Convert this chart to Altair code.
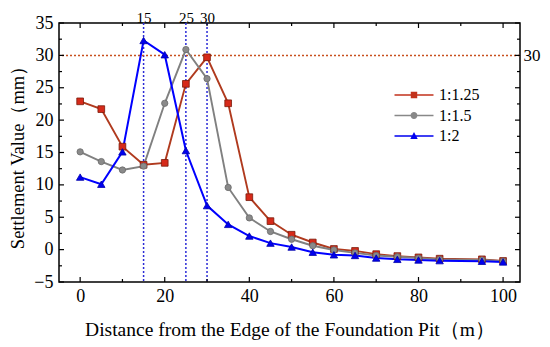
import altair as alt
import pandas as pd

# ---- data ----
dist = [0, 5, 10, 15, 20, 25, 30, 35, 40, 45, 50, 55, 60, 65, 70, 75, 80, 85, 95, 100]
s_125 = [22.9, 21.7, 15.9, 13.1, 13.4, 25.6, 29.7, 22.6, 8.1, 4.4, 2.3, 1.1, 0.1, -0.2, -0.7, -1.0, -1.2, -1.4, -1.5, -1.75]
s_15 = [15.1, 13.6, 12.3, 12.9, 22.6, 30.9, 26.4, 9.6, 4.9, 2.8, 1.6, 0.6, -0.05, -0.5, -0.9, -1.1, -1.3, -1.5, -1.6, -1.8]
s_2 = [11.2, 10.1, 15.1, 32.3, 30.1, 15.3, 6.8, 3.9, 2.1, 1.0, 0.4, -0.4, -0.8, -0.9, -1.3, -1.5, -1.6, -1.7, -1.8, -1.9]
names = ["1:1.25", "1:1.5", "1:2"]

x_major = [0, 20, 40, 60, 80, 100]
x_minor = [10, 30, 50, 70, 90]
y_major = [-5, 0, 5, 10, 15, 20, 25, 30, 35]
y_minor = [-2.5, 2.5, 7.5, 12.5, 17.5, 22.5, 27.5, 32.5]
v_lines = [15, 25, 30]
h_lines = [30]

df = pd.DataFrame({
    "dist": dist * 3,
    "value": s_125 + s_15 + s_2,
    "series": [names[0]] * len(dist) + [names[1]] * len(dist) + [names[2]] * len(dist),
})

FONT = "Liberation Serif"
W, H = 461, 259
xs = alt.Scale(domain=[-5, 104], nice=False, zero=False)
ys = alt.Scale(domain=[-5, 35], nice=False, zero=False)

styles = {
    "1:1.25": dict(line="#b03a1e", fill="#d62a1a", stroke="#7a1a0a", shape="square", size=45, width=1.9),
    "1:1.5": dict(line="#808080", fill="#8a8a8a", stroke="#6a6a6a", shape="circle", size=40, width=1.9),
    "1:2": dict(line="#0000ff", fill="#0000ee", stroke="#0000aa", shape="triangle-up", size=55, width=2.0),
}

layers = []

# reference dashed lines
vdf = pd.DataFrame({"v": v_lines})
layers.append(alt.Chart(vdf).mark_rule(color="#2b2bd6", strokeDash=[2, 2], strokeWidth=1.5).encode(
    x=alt.X("v:Q", scale=xs, axis=alt.Axis(orient="top", values=v_lines, ticks=False, tickSize=0, domain=False,
                                              grid=False, labelFont=FONT, labelFontSize=15, labelPadding=1,
                                              labelBaseline="alphabetic",
                                              labelColor="black", title=None))
))
hdf = pd.DataFrame({"h": h_lines})
layers.append(alt.Chart(hdf).mark_rule(color="#c8501e", strokeDash=[2, 2], strokeWidth=1.5).encode(
    y=alt.Y("h:Q", scale=ys, axis=alt.Axis(orient="right", values=h_lines, ticks=False, tickSize=0, domain=False,
                                              grid=False, labelFont=FONT, labelFontSize=17, labelPadding=3,
                                              labelColor="black", title=None))
))

# series
first = True
for nm in names:
    st = styles[nm]
    b = alt.Chart(df).transform_filter(alt.datum.series == nm)
    if first:
        xax = alt.Axis(orient="bottom", values=x_major, ticks=False, tickSize=0, domain=False, grid=False,
                       labelFont=FONT, labelFontSize=18, labelPadding=5, labelColor="black",
                       title="Distance from the Edge of the Foundation Pit（m）", titleFont=FONT,
                       titleFontSize=19.5, titleFontWeight="normal", titlePadding=15, titleColor="black")
        yax = alt.Axis(orient="left", values=y_major, ticks=False, tickSize=0, domain=False, grid=False,
                       labelFont=FONT, labelFontSize=18, labelPadding=6, labelColor="black",
                       title="Settlement Value（mm）", titleFont=FONT, titleFontSize=18.5,
                       titleFontWeight="normal", titlePadding=6, titleColor="black")
        first = False
    else:
        xax = None
        yax = None
    layers.append(b.mark_line(color=st["line"], strokeWidth=st["width"]).encode(
        x=alt.X("dist:Q", scale=xs, axis=xax), y=alt.Y("value:Q", scale=ys, axis=yax)))

for nm in names:
    st = styles[nm]
    b = alt.Chart(df).transform_filter(alt.datum.series == nm)
    layers.append(b.mark_point(shape=st["shape"], filled=True, fill=st["fill"], stroke=st["stroke"],
                               strokeWidth=0.8, size=st["size"], opacity=1).encode(
        x=alt.X("dist:Q", scale=xs, axis=None), y=alt.Y("value:Q", scale=ys, axis=None)))

# inward ticks
def xticks(vals, ln, top):
    d = pd.DataFrame({"t": vals})
    y0, y1 = (0, ln) if top else (H, H - ln)
    return alt.Chart(d).mark_rule(color="black", strokeWidth=1.2).encode(
        x=alt.X("t:Q", scale=xs, axis=None), y=alt.value(y0), y2=alt.value(y1))

def yticks(vals, ln, right):
    d = pd.DataFrame({"t": vals})
    x0, x1 = (W, W - ln) if right else (0, ln)
    return alt.Chart(d).mark_rule(color="black", strokeWidth=1.2).encode(
        y=alt.Y("t:Q", scale=ys, axis=None), x=alt.value(x0), x2=alt.value(x1))

for top in (False, True):
    layers.append(xticks(x_major, 5, top))
    layers.append(xticks(x_minor, 3, top))
for right in (False, True):
    layers.append(yticks(y_major, 5, right))
    layers.append(yticks(y_minor, 3, right))

# legend-only layer (line + marker symbols)
line_p = "M-2,-0.08H2V0.08H-2Z"
paths = [
    line_p + " M-0.33,-0.33H0.33V0.33H-0.33Z",
    line_p + " M0.35,0A0.35,0.35 0 1,1 -0.35,0A0.35,0.35 0 1,1 0.35,0Z",
    line_p + " M0,-0.42L0.38,0.3H-0.38Z",
]
leg_colors = ["#c2321c", "#888888", "#0000f0"]
leg = alt.Legend(orient="none", legendX=345, legendY=62, title=None, symbolSize=380, symbolStrokeWidth=0,
                 labelFont=FONT, labelFontSize=16, labelColor="black", labelOffset=15, rowPadding=2.5,
                 padding=0)
layers.append(alt.Chart(df).transform_filter("false").mark_point(filled=True, opacity=1).encode(
    x=alt.X("dist:Q", scale=xs, axis=None), y=alt.Y("value:Q", scale=ys, axis=None),
    color=alt.Color("series:N", scale=alt.Scale(domain=names, range=leg_colors), legend=leg),
    shape=alt.Shape("series:N", scale=alt.Scale(domain=names, range=paths), legend=leg),
))

chart = alt.layer(*layers).resolve_axis(x="independent", y="independent").properties(
    width=W, height=H,
    autosize=alt.AutoSizeParams(type="none"),
    padding={"left": 51, "top": 15, "right": 22, "bottom": 60},
    background="white",
).configure(font=FONT).configure_axis(labelFont=FONT, titleFont=FONT).configure_legend(
    labelFont=FONT
).configure_view(stroke="black", strokeWidth=1.5)

chart.save("out.html", embed_options={"renderer": "svg", "actions": False})
